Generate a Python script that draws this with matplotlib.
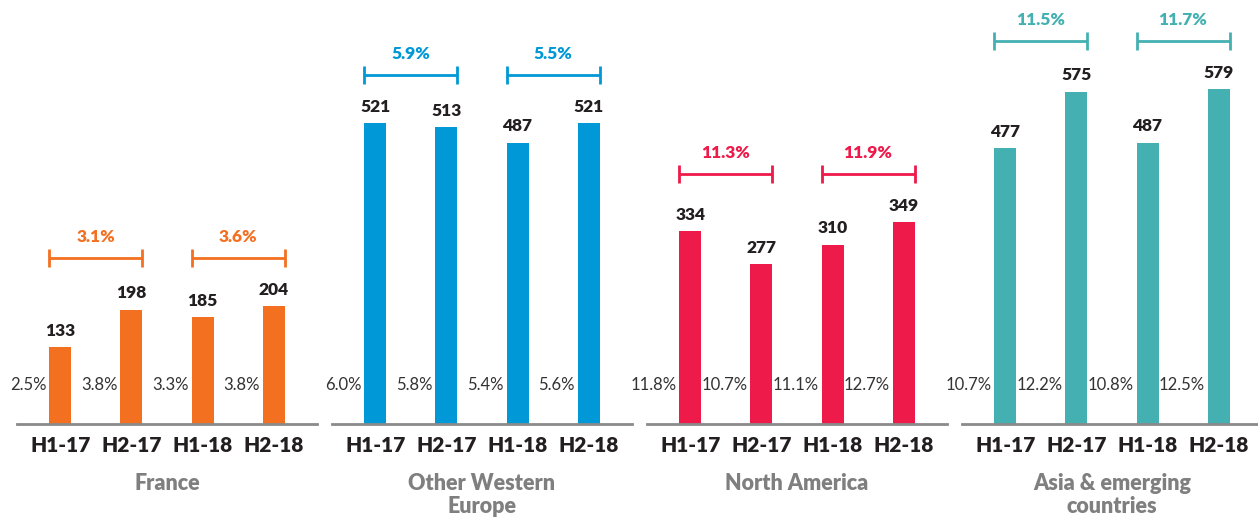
import matplotlib
matplotlib.use('Agg')
import matplotlib.pyplot as plt

plt.rcParams['font.family'] = ['Lato', 'DejaVu Sans']

# data
periods = ['H1-17', 'H2-17', 'H1-18', 'H2-18']
regions = ['France', 'Other Western\nEurope', 'North America', 'Asia & emerging\ncountries']
values = [
    [133, 198, 185, 204],
    [521, 513, 487, 521],
    [334, 277, 310, 349],
    [477, 575, 487, 579],
]
margins = [
    [2.5, 3.8, 3.3, 3.8],
    [6.0, 5.8, 5.4, 5.6],
    [11.8, 10.7, 11.1, 12.7],
    [10.7, 12.2, 10.8, 12.5],
]
yearly = [
    [3.1, 3.6],
    [5.9, 5.5],
    [11.3, 11.9],
    [11.5, 11.7],
]
colors = ['#F37021', '#0098D6', '#EE1A4A', '#45B0B1']

W, H = 1258, 518
fig = plt.figure(figsize=(W / 100, H / 100), dpi=100)

panel_left = [17, 332, 647, 962]
panel_w = 300
base_y = 424
ymax = 700
px_per_unit = 0.578
ax_h = ymax * px_per_unit
bw = 0.31
dark = '#231F20'
heavy = 'heavy'

for k in range(4):
    ax = fig.add_axes([panel_left[k] / W, (H - base_y) / H, panel_w / W, ax_h / H])
    x = list(range(4))
    ax.bar(x, values[k], width=bw, color=colors[k], zorder=2)
    ax.set_xlim(-0.61, 3.61)
    ax.set_ylim(0, ymax)
    for s in ['top', 'left', 'right']:
        ax.spines[s].set_visible(False)
    ax.spines['bottom'].set_color('#8a8a8a')
    ax.spines['bottom'].set_linewidth(2)
    ax.spines['bottom'].set_zorder(3)
    ax.set_yticks([])
    ax.set_xticks(x)
    ax.set_xticklabels(periods, fontsize=15, fontweight=heavy, color=dark)
    ax.tick_params(axis='x', length=0, pad=9)

    for i, v in enumerate(values[k]):
        ax.annotate(str(v), (i, v), xytext=(0, 6), textcoords='offset points',
                    ha='center', va='bottom', fontsize=12.5, fontweight=heavy, color=dark)
        ax.text(i - bw / 2 - 0.04, 39 / px_per_unit, f'{margins[k][i]:.1f}%',
                ha='right', va='center', fontsize=12, fontweight='normal', color='#333333')

    top = max(values[k]) + 48 / px_per_unit
    cap = 9 / px_per_unit
    for j, g in enumerate(yearly[k]):
        x0 = 2 * j - bw / 2
        x1 = 2 * j + 1 + bw / 2
        ax.plot([x0, x1], [top, top], color=colors[k], lw=2, solid_capstyle='butt', clip_on=False)
        ax.plot([x0, x0], [top - cap, top + cap], color=colors[k], lw=2, solid_capstyle='butt', clip_on=False)
        ax.plot([x1, x1], [top - cap, top + cap], color=colors[k], lw=2, solid_capstyle='butt', clip_on=False)
        ax.text((x0 + x1) / 2, top + 21 / px_per_unit, f'{g:.1f}%', ha='center', va='center',
                fontsize=12.5, fontweight=heavy, color=colors[k], clip_on=False)

    ax.annotate(regions[k], (0.5, 0), xycoords='axes fraction', xytext=(0, -35),
                textcoords='offset points', ha='center', va='top', fontsize=15.5,
                fontweight=heavy, color='#7f7f7f', linespacing=1.15)

fig.savefig('out.png', dpi=100)
